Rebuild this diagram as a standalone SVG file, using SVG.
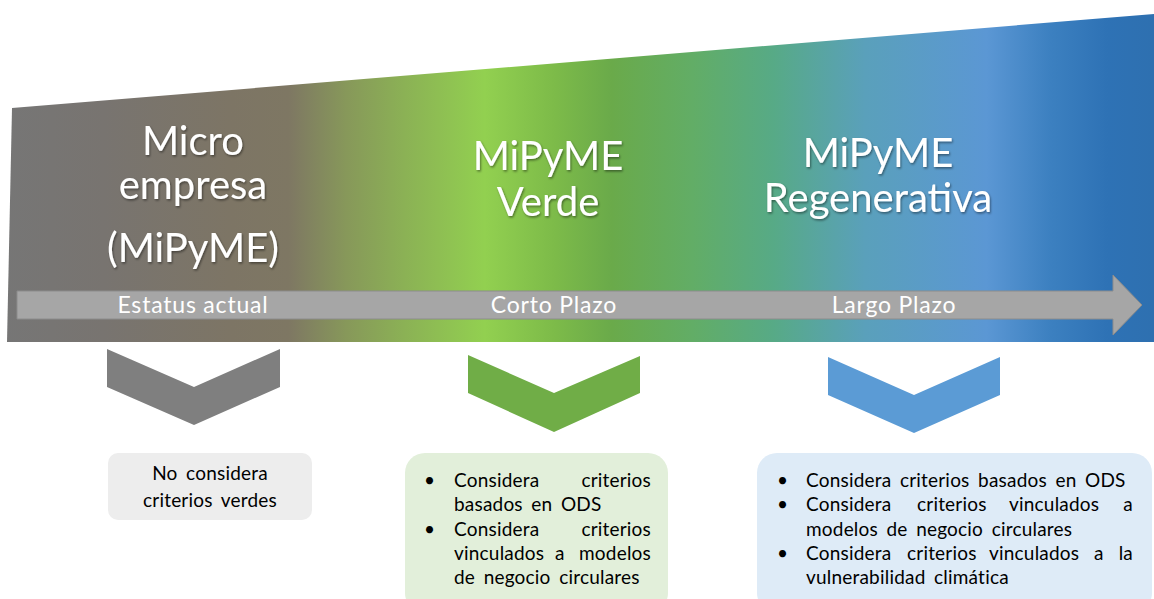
<svg xmlns="http://www.w3.org/2000/svg" width="1154" height="599" viewBox="0 0 1154 599">
<defs>
<linearGradient id="bg" x1="0" y1="0" x2="1154" y2="0" gradientUnits="userSpaceOnUse">
<stop offset="0" stop-color="#767676"/>
<stop offset="0.09" stop-color="#787470"/>
<stop offset="0.2" stop-color="#7d7565"/>
<stop offset="0.25" stop-color="#7e7763"/>
<stop offset="0.3" stop-color="#87985a"/>
<stop offset="0.35" stop-color="#8bb155"/>
<stop offset="0.42" stop-color="#92d050"/>
<stop offset="0.48" stop-color="#7dbb49"/>
<stop offset="0.53" stop-color="#6aaa4a"/>
<stop offset="0.6" stop-color="#62ad66"/>
<stop offset="0.67" stop-color="#57aa86"/>
<stop offset="0.75" stop-color="#5aa0bb"/>
<stop offset="0.855" stop-color="#5b97d4"/>
<stop offset="0.91" stop-color="#3c80c0"/>
<stop offset="0.96" stop-color="#2e72b5"/>
<stop offset="1" stop-color="#2e70b0"/>
</linearGradient>
<filter id="sh" x="-10%" y="-10%" width="120%" height="130%">
<feDropShadow dx="1" dy="1.5" stdDeviation="1" flood-color="#000" flood-opacity="0.45"/>
</filter>
</defs>
<style>
.head{font-family:Lato,"Liberation Sans",sans-serif;font-size:40px;fill:#fff;text-anchor:middle}
.band{font-family:Lato,"Liberation Sans",sans-serif;font-size:23px;letter-spacing:0.8px;fill:#fff;text-anchor:middle}
.body{font-family:Lato,"Liberation Sans",sans-serif;font-size:19px;letter-spacing:0.2px;word-spacing:3.5px;fill:#000}
.mid{text-anchor:middle}
.end{text-anchor:end}
</style>
<g id="background">
<polygon points="12,108 1154,14 1154,342 7,342" fill="url(#bg)"/>
</g>
<g id="connectors">
<polygon id="timeline-arrow" points="17,291 1113,291 1113,275 1142,305 1113,335 1113,319 17,319" fill="#a6a6a6" stroke="#8c8c8c" stroke-width="1"/>
<polygon id="chevron-gray" points="107,349 194,387 280,349 280,387 194,425 107,387" fill="#7f7f7f"/>
<polygon id="chevron-green" points="468,355 554,393 640,356 640,393 554,432 468,393" fill="#70ad47"/>
<polygon id="chevron-blue" points="828,357 914,395 1000,357 1000,395 914,433 828,395" fill="#5b9bd5"/>
</g>
<g id="stage-micro">
<g filter="url(#sh)">
<text class="head" x="193" y="155">Micro</text>
<text class="head" x="193" y="199">empresa</text>
<text class="head" x="193" y="262">(MiPyME)</text>
</g>
<text class="band" x="193" y="313">Estatus actual</text>
</g>
<g id="stage-verde">
<g filter="url(#sh)">
<text class="head" x="548" y="170">MiPyME</text>
<text class="head" x="548" y="216">Verde</text>
</g>
<text class="band" x="554" y="313">Corto Plazo</text>
</g>
<g id="stage-regenerativa">
<g filter="url(#sh)">
<text class="head" x="878" y="167">MiPyME</text>
<text class="head" x="878" y="212">Regenerativa</text>
</g>
<text class="band" x="894" y="313">Largo Plazo</text>
</g>
<g id="box-gray">
<rect x="108" y="453" width="204" height="67" rx="10" fill="#ededed"/>
<text class="body mid" x="210" y="480">No considera</text>
<text class="body mid" x="210" y="507">criterios verdes</text>
</g>
<g id="box-green">
<rect x="405" y="453" width="263" height="160" rx="20" fill="#e2efda"/>
<text class="body" x="424" y="487">•</text>
<text class="body" x="454" y="487">Considera</text>
<text class="body end" x="651" y="487">criterios</text>
<text class="body" x="454" y="511">basados en ODS</text>
<text class="body" x="424" y="536">•</text>
<text class="body" x="454" y="536">Considera</text>
<text class="body end" x="651" y="536">criterios</text>
<text class="body" x="454" y="560">vinculados</text>
<text class="body" x="555" y="560">a</text>
<text class="body end" x="651" y="560">modelos</text>
<text class="body" x="454" y="584">de negocio circulares</text>
</g>
<g id="box-blue">
<rect x="757" y="453" width="395" height="160" rx="20" fill="#deebf7"/>
<text class="body" x="777" y="487">•</text>
<text class="body" x="806" y="487">Considera criterios basados en ODS</text>
<text class="body" x="777" y="511">•</text>
<text class="body" x="806" y="511">Considera</text>
<text class="body" x="917" y="511">criterios</text>
<text class="body" x="1009" y="511">vinculados</text>
<text class="body end" x="1133" y="511">a</text>
<text class="body" x="806" y="536">modelos de negocio circulares</text>
<text class="body" x="777" y="560">•</text>
<text class="body" x="806" y="560">Considera</text>
<text class="body" x="907" y="560">criterios</text>
<text class="body" x="989" y="560">vinculados</text>
<text class="body" x="1094" y="560">a</text>
<text class="body end" x="1133" y="560">la</text>
<text class="body" x="806" y="584">vulnerabilidad climática</text>
</g>
</svg>
